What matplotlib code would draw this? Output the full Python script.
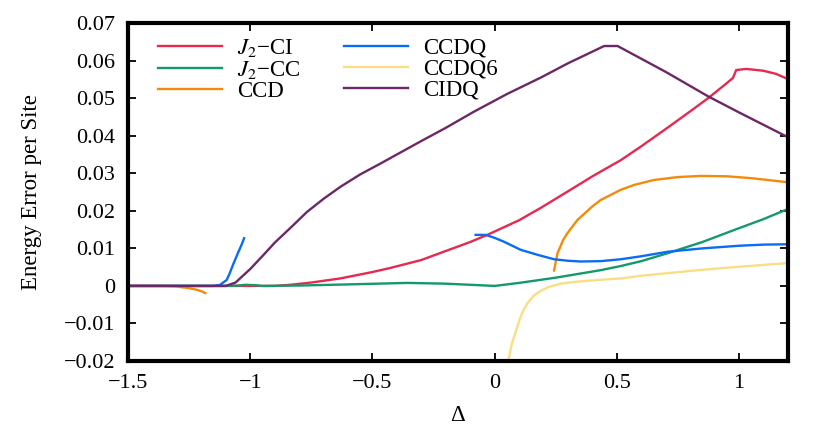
import matplotlib
matplotlib.use("Agg")
import matplotlib.pyplot as plt
from matplotlib.ticker import FuncFormatter, MultipleLocator

plt.rcParams['font.family'] = ['Liberation Serif', 'DejaVu Serif']
plt.rcParams['mathtext.fontset'] = 'stix'

# J2-CI
ci_x = [-1.5, -1.0, -0.9, -0.836, -0.75, -0.631, -0.5, -0.426, -0.3, -0.221, -0.1, -0.03,
        0.1, 0.189, 0.3, 0.4, 0.516, 0.6, 0.7, 0.8, 0.873, 0.94, 0.975, 0.988, 1.03, 1.1, 1.15, 1.2]
ci_y = [0, 0, 0.0, 0.0003, 0.0009, 0.002, 0.0037, 0.0048, 0.0069, 0.0088, 0.0117, 0.0136,
        0.0175, 0.0208, 0.0252, 0.0292, 0.0335, 0.0372, 0.0418, 0.0465, 0.050, 0.0535, 0.0554,
        0.0575, 0.0578, 0.0573, 0.0565, 0.0551]

# J2-CC
cc_x = [-1.5, -1.1, -1.05, -1.02, -0.98, -0.95, -0.8, -0.6, -0.358, -0.2, -0.1, 0.0,
        0.1, 0.25, 0.434, 0.516, 0.6, 0.707, 0.85, 0.98, 1.1, 1.2]
cc_y = [0, 0, 0.0001, 0.0003, 0.0002, 0.0, 0.0001, 0.0004, 0.0008, 0.0006, 0.0003, 0.0,
        0.0008, 0.0022, 0.0042, 0.0053, 0.0066, 0.0087, 0.0117, 0.0149, 0.0178, 0.0205]

# CCD (two branches)
ccd1_x = [-1.5, -1.35, -1.3, -1.287, -1.25, -1.22, -1.2, -1.184]
ccd1_y = [0, 0, -0.0001, -0.0003, -0.0006, -0.001, -0.0014, -0.0019]
ccd2_x = [0.243, 0.257, 0.28, 0.297, 0.339, 0.4, 0.434, 0.516, 0.571, 0.65, 0.75, 0.844,
          0.95, 1.049, 1.12, 1.2]
ccd2_y = [0.0041, 0.0087, 0.0122, 0.014, 0.0176, 0.0212, 0.0229, 0.0256, 0.0269, 0.0282,
          0.0290, 0.0293, 0.0292, 0.0287, 0.0282, 0.0276]

# CCDQ (two branches)
ccdq1_x = [-1.5, -1.15, -1.123, -1.096, -1.085, -1.068, -1.048, -1.035, -1.025]
ccdq1_y = [0, 0, 0.0003, 0.0016, 0.0032, 0.006, 0.0091, 0.0110, 0.0127]
ccdq2_x = [-0.078, -0.037, 0.0, 0.037, 0.107, 0.18, 0.243, 0.3, 0.352, 0.434, 0.516, 0.6,
           0.707, 0.85, 1.0, 1.1, 1.2]
ccdq2_y = [0.0136, 0.0136, 0.0128, 0.0118, 0.0096, 0.0082, 0.0071, 0.0067, 0.0065, 0.0066,
           0.0071, 0.0079, 0.0091, 0.0100, 0.0107, 0.0110, 0.0111]

# CCDQ6
q6_x = [0.055, 0.058, 0.07, 0.093, 0.11, 0.134, 0.16, 0.189, 0.22, 0.27, 0.33, 0.407,
        0.516, 0.6, 0.707, 0.85, 1.0, 1.1, 1.2]
q6_y = [-0.02, -0.0192, -0.0155, -0.0108, -0.0075, -0.0046, -0.0026, -0.0013, -0.0003,
        0.0006, 0.0011, 0.0015, 0.0020, 0.0027, 0.0034, 0.0043, 0.0051, 0.0056, 0.0061]

# CIDQ
cidq_x = [-1.5, -1.1, -1.06, -1.0, -0.945, -0.9, -0.83, -0.768, -0.7, -0.631, -0.55, -0.467,
          -0.392, -0.3, -0.2, -0.085, 0.05, 0.189, 0.3, 0.448, 0.503, 0.7, 0.873, 1.0, 1.2]
cidq_y = [0, 0, 0.0009, 0.0045, 0.0083, 0.0115, 0.0158, 0.0197, 0.0232, 0.0264, 0.0297,
          0.0326, 0.0353, 0.0386, 0.0421, 0.0464, 0.0511, 0.0555, 0.0593, 0.0639, 0.0639,
          0.0570, 0.0505, 0.0462, 0.0396]

red = '#e6294f'
green = '#14996b'
orange = '#f58a0a'
blue = '#0a6cf5'
yellow = '#fbdd85'
purple = '#6c2866'
lw = 1.7

fig = plt.figure(figsize=(8.3, 4.36), dpi=100)
ax = fig.add_axes([0.1542, 0.172, 0.7952, 0.775])

ax.plot(ci_x, ci_y, color=red, lw=lw, label='$J_2$\u2212CI')
ax.plot(cc_x, cc_y, color=green, lw=lw, label='$J_2$\u2212CC')
ax.plot(ccd1_x, ccd1_y, color=orange, lw=lw, label='CCD')
ax.plot(ccd2_x, ccd2_y, color=orange, lw=lw)
ax.plot(ccdq1_x, ccdq1_y, color=blue, lw=lw, label='CCDQ')
ax.plot(ccdq2_x, ccdq2_y, color=blue, lw=lw)
ax.plot(q6_x, q6_y, color=yellow, lw=lw, label='CCDQ6')
ax.plot(cidq_x, cidq_y, color=purple, lw=lw, label='CIDQ')

ax.set_xlim(-1.5, 1.2)
ax.set_ylim(-0.02, 0.07)
ax.xaxis.set_major_locator(MultipleLocator(0.5))
ax.yaxis.set_major_locator(MultipleLocator(0.01))

def fmt_x(v, pos):
    return ('%g' % round(v, 2)).replace('-', '\u2212')

def fmt_y(v, pos):
    if abs(v) < 1e-9:
        return '0'
    return ('%.2f' % v).replace('-', '\u2212')

ax.xaxis.set_major_formatter(FuncFormatter(fmt_x))
ax.yaxis.set_major_formatter(FuncFormatter(fmt_y))

for s in ax.spines.values():
    s.set_linewidth(3.0)
ax.tick_params(direction='in', length=6, width=1.3, top=True, right=True,
               labelsize=16, pad=9)

ax.set_xlabel('\u0394', fontsize=16.5, labelpad=9)
ax.set_ylabel('Energy Error per Site', fontsize=16.5, labelpad=16)

ax.legend(loc='upper left', ncol=2, frameon=False, fontsize=16.5,
          handlelength=2.8, handletextpad=0.65, columnspacing=1.9,
          labelspacing=0.0, borderaxespad=0.2, bbox_to_anchor=(0.025, 1.0))

fig.savefig('out.png', dpi=100)
